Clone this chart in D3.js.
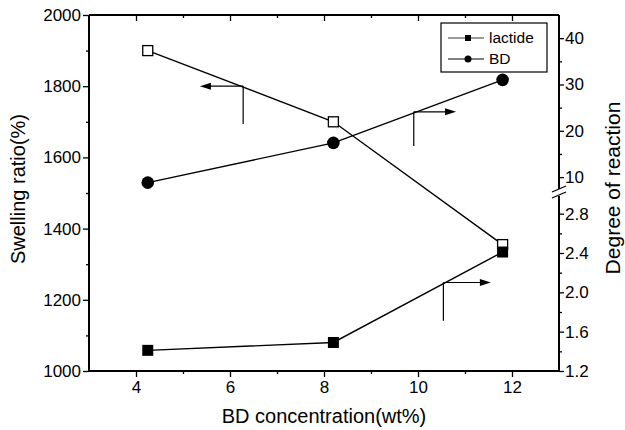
<!DOCTYPE html>
<html>
  <head>
    <meta charset="utf-8">
    <title>Swelling ratio and degree of reaction vs BD concentration</title>
    <script src="https://d3js.org/d3.v7.min.js"></script>
    <style>
      body { margin: 0; background: #fff; }
      text { font-family: "Liberation Sans", Arial, sans-serif; fill: #000; }
    </style>
  </head>
  <body>

  <div id="chart"></div>

  <script>

  // data
  var conc = [4.25, 8.2, 11.8];                 // BD concentration (wt%)
  var swelling = [1900, 1700, 1355];            // swelling ratio (%), left axis
  var bdDegree = [8.8, 17.4, 31];               // degree of reaction BD, right axis (upper part)
  var lactideDegree = [1.41, 1.49, 2.41];       // degree of reaction lactide, right axis (lower part)

  var xTicks = [4, 6, 8, 10, 12];
  var xMinor = [5, 7, 9, 11];
  var leftTicks = [1000, 1200, 1400, 1600, 1800, 2000];
  var leftMinor = [1100, 1300, 1500, 1700, 1900];
  var upperTicks = [10, 20, 30, 40];
  var upperMinor = [15, 25, 35];
  var lowerTicks = [1.2, 1.6, 2.0, 2.4, 2.8];
  var lowerMinor = [1.4, 1.8, 2.2, 2.6];

  // arrows: [x, yStart, yEnd, xTip] in data units
  var arrowLeft = [6.28, 1800, 1694, 5.36];
  var arrowBD = [9.91, 24.1, 16.7, 10.81];
  var arrowLactide = [10.54, 2.10, 1.71, 11.55];

  // set the dimensions and margins of the graph
  var margin = {top: 15, right: 66, bottom: 59, left: 89},
      width = 625 - margin.left - margin.right,
      height = 430 - margin.top - margin.bottom;

  var svg = d3.select("#chart")
    .append("svg")
      .attr("width", 625)
      .attr("height", 430)
    .append("g")
      .attr("transform", "translate(" + margin.left + "," + margin.top + ")");

  // scales
  var x = d3.scaleLinear().domain([3, 13]).range([0, width]);
  var y = d3.scaleLinear().domain([1000, 2000]).range([height, 0]);
  var yUp = d3.scaleLinear().domain([7, 45]).range([176, 0]);
  var yLow = d3.scaleLinear().domain([1.2, 3.0]).range([height, 179]);

  function styleAxis(g) {
    g.selectAll("line").attr("stroke", "#000").attr("stroke-width", 1.3);
    g.selectAll("text").style("font-size", "17px");
    g.select(".domain").remove();
  }

  // bottom axis
  svg.append("g")
    .attr("transform", "translate(0," + height + ")")
    .call(d3.axisBottom(x).tickValues(xTicks).tickSize(6).tickPadding(4).tickSizeOuter(0))
    .call(styleAxis);
  svg.append("g")
    .attr("transform", "translate(0," + height + ")")
    .call(d3.axisBottom(x).tickValues(xMinor).tickSize(3).tickFormat(""))
    .call(styleAxis);

  // top axis, ticks pointing in
  svg.append("g")
    .call(d3.axisBottom(x).tickValues(xTicks).tickSize(6).tickFormat(""))
    .call(styleAxis);
  svg.append("g")
    .call(d3.axisBottom(x).tickValues(xMinor).tickSize(3).tickFormat(""))
    .call(styleAxis);

  // left axis
  svg.append("g")
    .call(d3.axisLeft(y).tickValues(leftTicks).tickSize(6).tickPadding(2).tickFormat(d3.format("d")))
    .call(styleAxis);
  svg.append("g")
    .call(d3.axisLeft(y).tickValues(leftMinor).tickSize(3).tickFormat(""))
    .call(styleAxis);

  // right axis, upper part
  svg.append("g")
    .attr("transform", "translate(" + width + ",0)")
    .call(d3.axisRight(yUp).tickValues(upperTicks).tickSize(5).tickPadding(1))
    .call(styleAxis);
  svg.append("g")
    .attr("transform", "translate(" + width + ",0)")
    .call(d3.axisRight(yUp).tickValues(upperMinor).tickSize(3).tickFormat(""))
    .call(styleAxis);

  // right axis, lower part
  svg.append("g")
    .attr("transform", "translate(" + width + ",0)")
    .call(d3.axisRight(yLow).tickValues(lowerTicks).tickSize(5).tickPadding(1).tickFormat(d3.format(".1f")))
    .call(styleAxis);
  svg.append("g")
    .attr("transform", "translate(" + width + ",0)")
    .call(d3.axisRight(yLow).tickValues(lowerMinor).tickSize(3).tickFormat(""))
    .call(styleAxis);

  // frame lines
  var frame = svg.append("g").attr("stroke", "#000").attr("stroke-width", 2);
  frame.append("line").attr("x1", 0).attr("x2", width).attr("y1", height).attr("y2", height);
  frame.append("line").attr("x1", 0).attr("x2", width).attr("y1", 0).attr("y2", 0);
  frame.append("line").attr("x1", 0).attr("x2", 0).attr("y1", 0).attr("y2", height);
  // right axis with a break
  frame.append("line").attr("x1", width).attr("x2", width).attr("y1", 0).attr("y2", 174);
  frame.append("line").attr("x1", width).attr("x2", width).attr("y1", 181).attr("y2", height);
  frame.append("line").attr("stroke-width", 1.3)
    .attr("x1", width - 7).attr("y1", 177).attr("x2", width + 7).attr("y2", 171);
  frame.append("line").attr("stroke-width", 1.3)
    .attr("x1", width - 7).attr("y1", 183).attr("x2", width + 7).attr("y2", 177);

  // axis titles
  svg.append("text")
    .attr("x", width / 2)
    .attr("y", height + 52)
    .attr("text-anchor", "middle")
    .style("font-size", "20px")
    .text("BD concentration(wt%)");

  svg.append("text")
    .attr("transform", "translate(" + (-64) + "," + 174 + ") rotate(-90)")
    .attr("text-anchor", "middle")
    .style("font-size", "20px")
    .text("Swelling ratio(%)");

  svg.append("text")
    .attr("transform", "translate(" + (width + 61) + "," + 173 + ") rotate(-90)")
    .attr("text-anchor", "middle")
    .style("font-size", "21px")
    .text("Degree of reaction");

  // lines
  var idx = d3.range(conc.length);
  function drawLine(yScale, vals) {
    svg.append("path")
      .datum(idx)
      .attr("fill", "none")
      .attr("stroke", "#000")
      .attr("stroke-width", 1.4)
      .attr("d", d3.line()
        .x(function(i) { return x(conc[i]); })
        .y(function(i) { return yScale(vals[i]); }));
  }
  drawLine(y, swelling);
  drawLine(yUp, bdDegree);
  drawLine(yLow, lactideDegree);

  // arrows
  function drawArrow(a, yScale, dir) {
    var ax = x(a[0]), ay = yScale(a[1]), ay2 = yScale(a[2]), tx = x(a[3]);
    var g = svg.append("g").attr("stroke", "#000").attr("stroke-width", 1.2);
    g.append("line").attr("x1", ax).attr("x2", ax).attr("y1", ay).attr("y2", ay2);
    g.append("line").attr("x1", ax).attr("x2", tx - dir * 8).attr("y1", ay).attr("y2", ay);
    g.append("path")
      .attr("stroke", "none")
      .attr("fill", "#000")
      .attr("d", "M" + tx + "," + ay + "L" + (tx - dir * 11) + "," + (ay - 3.5) + "L" + (tx - dir * 11) + "," + (ay + 3.5) + "Z");
  }
  drawArrow(arrowLeft, y, -1);
  drawArrow(arrowBD, yUp, 1);
  drawArrow(arrowLactide, yLow, 1);

  // markers
  svg.selectAll(".open-sq")
    .data(idx)
    .enter().append("rect")
      .attr("x", function(i) { return x(conc[i]) - 5; })
      .attr("y", function(i) { return y(swelling[i]) - 5; })
      .attr("width", 10).attr("height", 10)
      .attr("fill", "#fff").attr("stroke", "#000").attr("stroke-width", 1.3);

  svg.selectAll(".fill-sq")
    .data(idx)
    .enter().append("rect")
      .attr("x", function(i) { return x(conc[i]) - 5.5; })
      .attr("y", function(i) { return yLow(lactideDegree[i]) - 5.5; })
      .attr("width", 11).attr("height", 11)
      .attr("fill", "#000");

  svg.selectAll(".dot")
    .data(idx)
    .enter().append("circle")
      .attr("cx", function(i) { return x(conc[i]); })
      .attr("cy", function(i) { return yUp(bdDegree[i]); })
      .attr("r", 6.3)
      .attr("fill", "#000");

  // legend
  var legend = svg.append("g").attr("transform", "translate(" + (441 - margin.left) + "," + (23 - margin.top) + ")");
  legend.append("rect")
    .attr("width", 106).attr("height", 49)
    .attr("fill", "#fff").attr("stroke", "#000").attr("stroke-width", 1.2);

  legend.append("line").attr("x1", 7).attr("x2", 43).attr("y1", 15).attr("y2", 15)
    .attr("stroke", "#000").attr("stroke-width", 0.8);
  legend.append("rect").attr("x", 24).attr("y", 12).attr("width", 6).attr("height", 6).attr("fill", "#000");
  legend.append("text").attr("x", 48).attr("y", 15).attr("dy", "0.35em")
    .style("font-size", "15.5px").text("lactide");

  legend.append("line").attr("x1", 7).attr("x2", 43).attr("y1", 36).attr("y2", 36)
    .attr("stroke", "#000").attr("stroke-width", 1.2);
  legend.append("circle").attr("cx", 27).attr("cy", 36).attr("r", 3.5).attr("fill", "#000");
  legend.append("text").attr("x", 48).attr("y", 36).attr("dy", "0.35em")
    .style("font-size", "15.5px").text("BD");

  </script>
  </body>
</html>
